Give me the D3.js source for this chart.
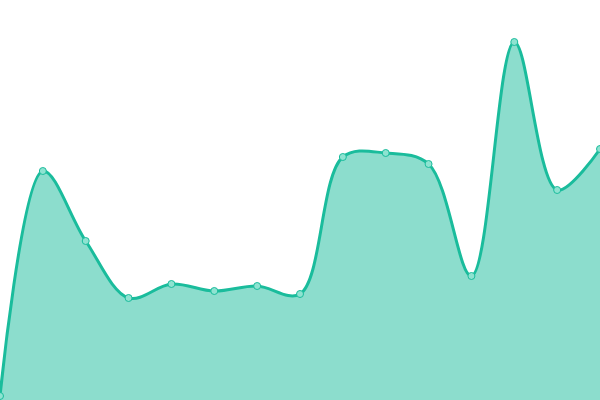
<!DOCTYPE html>
<html>
<head>
<meta charset="utf-8">
<script src="https://cdn.jsdelivr.net/npm/d3@7"></script>
<style>
html,body{margin:0;padding:0;background:#fff;}
svg{display:block;}
</style>
</head>
<body>
<svg id="chart" width="600" height="400"></svg>
<script>
const categories = [0,1,2,3,4,5,6,7,8,9,10,11,12,13,14];
const values = [4, 229, 159, 102, 116, 109, 114, 106, 243, 247, 236, 124, 358, 210, 251];

const W = 600, H = 400;
const svg = d3.select("#chart");
const x = d3.scaleLinear().domain([0, categories.length - 1]).range([0, W]);
const y = d3.scaleLinear().domain([0, 400]).range([H, 0]);
const data = categories.map((c, i) => ({c, v: values[i]}));
const curve = d3.curveCatmullRom.alpha(0.5);

svg.append("path")
  .datum(data)
  .attr("fill", "#1abc9c")
  .attr("fill-opacity", 0.5)
  .attr("d", d3.area().x(d => x(d.c)).y0(y(0)).y1(d => y(d.v)).curve(curve));

svg.append("path")
  .datum(data)
  .attr("fill", "none")
  .attr("stroke", "#1abc9c")
  .attr("stroke-width", 3)
  .attr("d", d3.line().x(d => x(d.c)).y(d => y(d.v)).curve(curve));

svg.selectAll("circle")
  .data(data)
  .join("circle")
  .attr("cx", d => x(d.c))
  .attr("cy", d => y(d.v))
  .attr("r", 3.5)
  .attr("fill", "#8ee3d1")
  .attr("stroke", "#1abc9c")
  .attr("stroke-width", 1);
</script>
</body>
</html>
